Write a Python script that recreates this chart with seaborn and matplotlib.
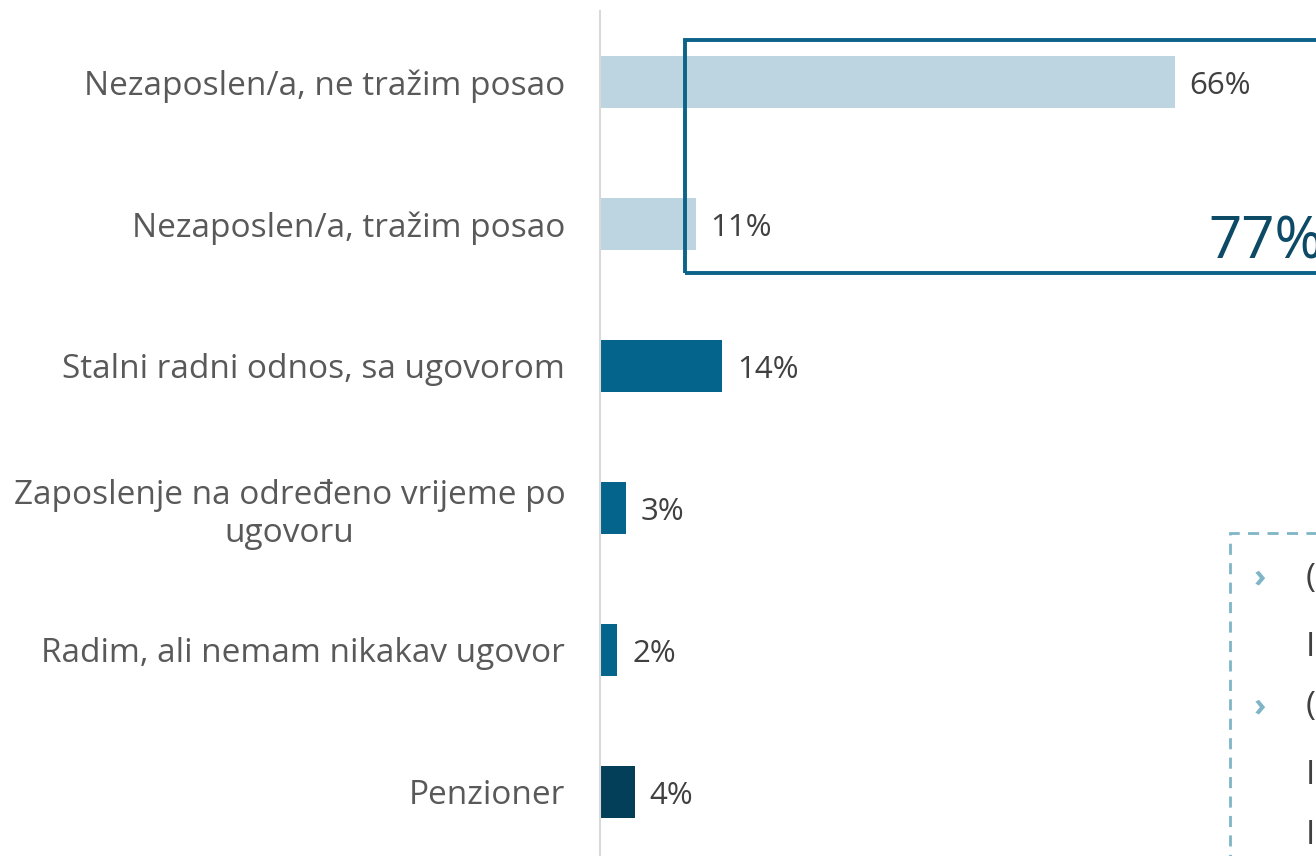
import matplotlib
matplotlib.use("Agg")
import matplotlib.pyplot as plt
import matplotlib.patches as mpatches
import seaborn as sns
import pandas as pd

categories = [
    "Nezaposlen/a, ne tražim posao",
    "Nezaposlen/a, tražim posao",
    "Stalni radni odnos, sa ugovorom",
    "Zaposlenje na određeno vrijeme po\nugovoru",
    "Radim, ali nemam nikakav ugovor",
    "Penzioner",
]
values = [66, 11, 14, 3, 2, 4]
value_labels = ["66%", "11%", "14%", "3%", "2%", "4%"]
bar_colors = ["#bcd5e0", "#bcd5e0", "#05648c", "#05648c", "#05648c", "#043f5a"]
box_total_label = "77%"
side_glyphs = ["(", "I", "(", "I", "I"]

sns.set_theme(style="white")
plt.rcParams["font.family"] = ["Open Sans", "DejaVu Sans"]

W, H = 1316, 856
fig = plt.figure(figsize=(W / 100, H / 100), dpi=100)
ax = fig.add_axes([600 / W, 1 - 863 / H, 1 - 600 / W, 852 / H])

df = pd.DataFrame({"cat": categories, "val": values})
sns.barplot(data=df, x="val", y="cat", hue="cat", palette=bar_colors,
            orient="h", width=0.365, legend=False, ax=ax, saturation=1,
            linewidth=0)

ax.set_xlim(0, 82.2)
ax.set_ylim(5.5, -0.5)
ax.set_xlabel("")
ax.set_ylabel("")
ax.set_xticks([])
for s in ["top", "right", "bottom"]:
    ax.spines[s].set_visible(False)
ax.spines["left"].set_color("#d9d9d9")
ax.spines["left"].set_linewidth(1.5)
ax.tick_params(axis="y", length=0, pad=25, labelsize=24, labelcolor="#595959")
for t in ax.get_yticklabels():
    t.set_horizontalalignment("right")
    t.set_multialignment("center")
    t.set_linespacing(1.2)

for i, (v, lab) in enumerate(zip(values, value_labels)):
    ax.text(v + 1.7, i + 0.025, lab, va="center", ha="left", fontsize=22.5, color="#404040")

# highlight box around first two bars
rect = mpatches.Rectangle((685 / W, 1 - 273 / H), (W + 10 - 685) / W, (273 - 40) / H,
                          transform=fig.transFigure, fill=False,
                          edgecolor="#0b6389", linewidth=2.8, clip_on=False)
fig.add_artist(rect)
fig.text(1208 / W, 1 - 243 / H, box_total_label, ha="left", va="center",
         fontsize=42, color="#0c4a66")

# dashed note box (cropped)
note_top = 1 - 533 / H
note = mpatches.Rectangle((1230 / W, -0.02), (W + 20 - 1230) / W, note_top + 0.02,
                          transform=fig.transFigure, fill=False,
                          edgecolor="#7fb6c7", linewidth=2, linestyle=(0, (4, 3)))
fig.add_artist(note)
for yy in [578, 707]:
    fig.text(1260 / W, 1 - yy / H, "›", ha="center", va="center", fontsize=24,
             color="#7fb6c7", fontweight="bold")
for yy, g in zip([578, 647, 707, 776, 835], side_glyphs):
    fig.text(1306 / W, 1 - yy / H, g, ha="left", va="center", fontsize=24, color="#404040")

fig.savefig("out.png", dpi=100)
